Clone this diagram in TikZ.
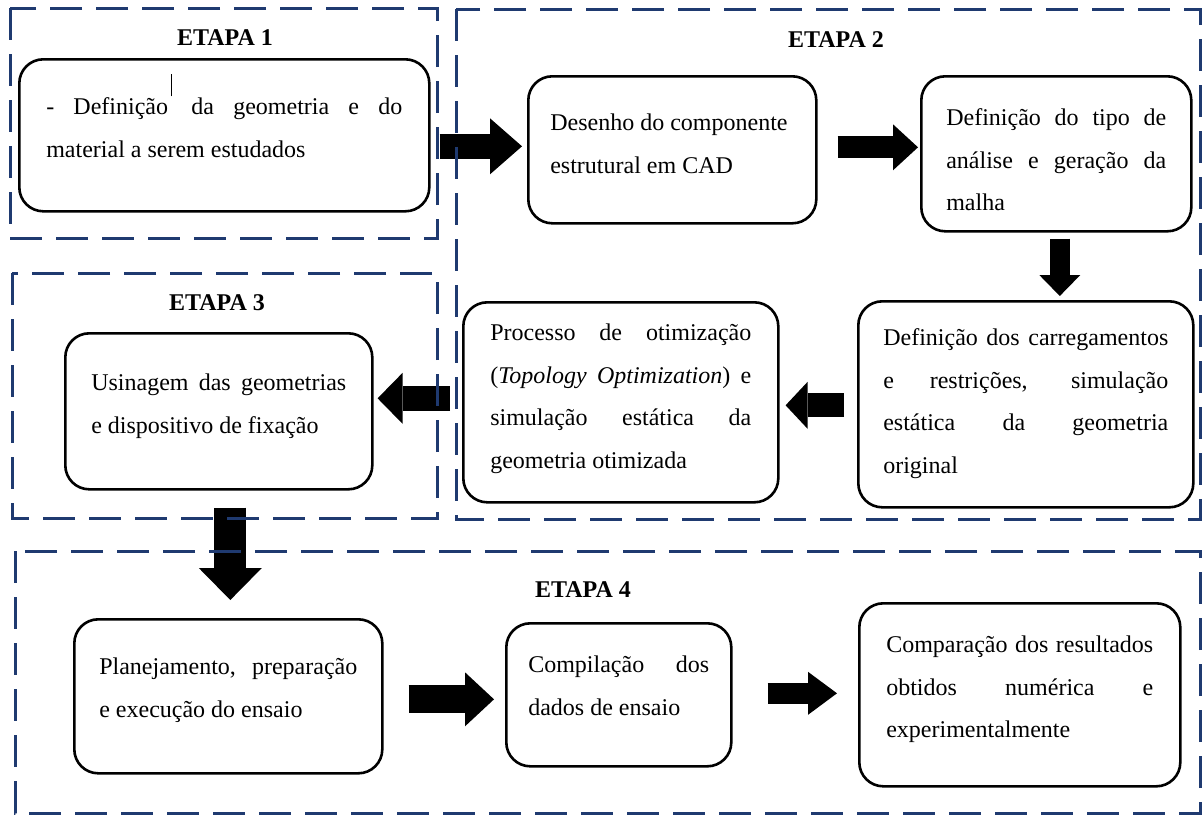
\documentclass[tikz,border=0pt]{standalone}
\usepackage{fontspec}
\setmainfont{Liberation Serif}
\usetikzlibrary{arrows.meta}
\definecolor{etapablue}{RGB}{31,58,112}
\hyphenpenalty=10000
\exhyphenpenalty=10000

\tikzset{
  stepbox/.style={draw, line width=1.3pt, rounded corners=12pt, fill=white,
    anchor=north west, inner ysep=0pt, align=justify,
    font=\fontsize{12}{21.4}\selectfont},
  etapa/.style={draw=etapablue, line width=1.5pt, dash pattern=on 16pt off 7pt},
  etapatitle/.style={font=\bfseries\fontsize{12}{14}\selectfont, inner sep=0pt},
  bloco/.style n args={3}{line width=#1,
    -{Triangle[length=#2, width=#3, line width=0pt]}}
}

\begin{document}
\begin{tikzpicture}[x=0.5pt, y=-0.5pt]
  \useasboundingbox (0,0) rectangle (1203,816);
  % Etapa 1
  \node[etapatitle] (t1) at (225,38) {ETAPA 1};
  \node[stepbox, inner xsep=13.5pt, text width=178pt,
    text height=27.5pt, text depth=48.5pt] (defgeo) at (18,58)
    {- Definição\kern1.5pt\rule[9pt]{0.6pt}{11pt} da geometria e do\linebreak
     material a serem estudados};
  % Etapa 2
  \node[etapatitle] (t2) at (836,40) {ETAPA 2};
  \node[stepbox, inner xsep=11pt, text width=122pt,
    text height=27pt, text depth=46.5pt] (desenho) at (527,75)
    {Desenho do componente\newline estrutural em CAD};
  \node[stepbox, inner xsep=12.5pt, text width=110pt,
    text height=24.5pt, text depth=53pt] (malha) at (920,75)
    {Definição do tipo de\linebreak análise e geração da\linebreak malha};
  \node[stepbox, inner xsep=12.5pt, text width=142.5pt,
    text height=22pt, text depth=81pt] (carreg) at (857,300)
    {Definição dos carregamentos\linebreak e restrições, simulação\linebreak
     estática da geometria\linebreak original};
  \node[stepbox, inner xsep=13.5pt, text width=130.5pt,
    text height=19pt, text depth=81pt] (otim) at (462,301)
    {Processo de otimização\linebreak (\textit{Topology Optimization}) e\linebreak
     simulação estática da\linebreak geometria otimizada};
  % Etapa 3
  \node[etapatitle] (t3) at (217,303) {ETAPA 3};
  \node[stepbox, inner xsep=13pt, text width=127.5pt,
    text height=28.5pt, text depth=49.5pt] (usinagem) at (64,332)
    {Usinagem das geometrias\linebreak e dispositivo de fixação};
  % Etapa 4
  \node[etapatitle] (t4) at (583,590) {ETAPA 4};
  \node[stepbox, inner xsep=12.5pt, text width=129pt,
    text height=27.5pt, text depth=49.5pt] (ensaio) at (73,618)
    {Planejamento, preparação\linebreak e execução do ensaio};
  \node[stepbox, inner xsep=11pt, text width=90.5pt,
    text height=24.5pt, text depth=47pt] (dados) at (505,622)
    {Compilação dos\linebreak dados de ensaio};
  \node[stepbox, inner xsep=13.5pt, text width=133.5pt,
    text height=24.5pt, text depth=67pt] (compara) at (858,602)
    {Comparação dos resultados\linebreak obtidos numérica e\linebreak
     experimentalmente};
  % Block arrows
  \draw[bloco={12.5pt}{16pt}{28pt}]
    ([shift={(9,11)}]defgeo.east) -- ([shift={(-5,-3.5)}]desenho.west);
  \draw[bloco={11pt}{12.5pt}{23pt}]
    ([shift={(20,-2.5)}]desenho.east) -- ([shift={(-2,-6.5)}]malha.west);
  \draw[bloco={10pt}{10.5pt}{20.5pt}]
    ([shift={(3.5,6)}]malha.south) -- ([shift={(34,-4)}]carreg.north);
  \draw[bloco={12pt}{11pt}{23.5pt}]
    ([shift={(-13,1)}]carreg.west) -- ([shift={(6,3)}]otim.east);
  \draw[bloco={12.5pt}{12.5pt}{25.5pt}]
    ([shift={(-12,-4)}]otim.west) -- ([shift={(4,-13)}]usinagem.east);
  \draw[bloco={16pt}{16pt}{31.5pt}]
    ([shift={(11.5,17)}]usinagem.south) -- ([shift={(2,-18)}]ensaio.north);
  \draw[bloco={14pt}{14.5pt}{27pt}]
    ([shift={(25,3)}]ensaio.east) -- ([shift={(-11,4.5)}]dados.west);
  \draw[bloco={10.5pt}{14.5pt}{21.5pt}]
    ([shift={(35,-1.5)}]dados.east) -- ([shift={(-21,-1.5)}]compara.west);
  % Dashed stage frames
  \draw[etapa] (10,8) rectangle (437,238);
  \draw[etapa] (456,9) rectangle (1200,519);
  \draw[etapa] (12,273) rectangle (437,518);
  \draw[etapa] (15,551) rectangle (1200,813);
\end{tikzpicture}
\end{document}
